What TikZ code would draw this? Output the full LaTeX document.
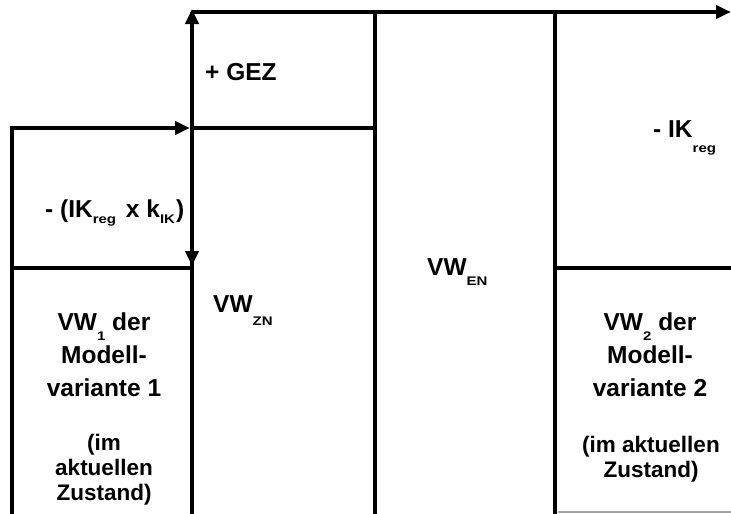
\documentclass[tikz,border=0pt]{standalone}
\usepackage{fontspec}
\usepackage{graphicx}
\setmainfont{Liberation Sans}
\usetikzlibrary{arrows.meta}
\newcommand{\mysub}[2]{\raisebox{-#1}{\scalebox{1.2}[1]{\fontsize{12.5}{13}\selectfont #2}}}
\tikzset{
  wall/.style={line width=4pt, line cap=rect},
  arr/.style={line width=4pt, -{Triangle[length=15pt,width=13pt]}},
  big/.style={inner sep=0pt, font=\bfseries\fontsize{24.5}{33}\selectfont},
  small/.style={inner sep=0pt, font=\bfseries\fontsize{22.5}{25}\selectfont},
}
\begin{document}
\begin{tikzpicture}[x=1pt,y=-1pt]
\useasboundingbox (0,0) rectangle (731,514);
% coordinates
\coordinate (LB) at (12,516);
\coordinate (LT) at (12,128);
\coordinate (A1) at (190,128);
\coordinate (M1) at (192,128);
\coordinate (R1) at (375,128);
\coordinate (CB) at (192,516);
\coordinate (CT) at (192,9);
\coordinate (TL) at (192,12);
\coordinate (TR) at (731,12);
\coordinate (D1) at (192,266);
\coordinate (LH1) at (12,268);
\coordinate (LH2) at (192,268);
\coordinate (V2T) at (375,12);
\coordinate (V2B) at (375,516);
\coordinate (V3T) at (555,12);
\coordinate (V3B) at (555,516);
\coordinate (RH1) at (555,268);
\coordinate (RH2) at (733,268);
\coordinate (G1) at (558,512);
\coordinate (G2) at (731,512);
% lines
\draw[line width=4pt] (LB) -- (LT) -- ++(2,0);
\draw[arr] (LT) -- (A1);
\draw[wall] (M1) -- (R1);
\draw[line width=4pt] (CB) -- (TL);
\draw[arr] (CB) -- (CT);
\draw[arr] (TL) -- (TR);
\draw[arr] (M1) -- (D1);
\draw[wall] (LH1) -- (LH2);
\draw[wall] (V2T) -- (V2B);
\draw[wall] (V3T) -- (V3B);
\draw[wall] (RH1) -- (RH2);
\draw[gray!70, line width=1.5pt] (G1) -- (G2);
% texts
\node[big, anchor=base west] (gez) at (205,80) {+ GEZ};
\node[big, anchor=base west] (ikk) at (45,217) {- (IK\mysub{6pt}{reg}\hspace{3pt} x k\mysub{6pt}{IK}\hspace{1pt})};
\node[big, anchor=base west] (ikr) at (653,137) {- IK\mysub{15pt}{reg}};
\node[big, anchor=base west] (ven) at (427,275) {VW\mysub{10pt}{EN}};
\node[big, anchor=base west] (vzn) at (213,312) {VW\mysub{13pt}{ZN}};
\node[big, anchor=base, align=center] (v1) at (104,396) {VW\mysub{10pt}{1} der\\Modell-\\variante 1};
\node[small, anchor=base, align=center] (z1) at (104,500) {(im\\aktuellen\\Zustand)};
\node[big, anchor=base, align=center] (v2) at (650,396) {VW\mysub{10pt}{2} der\\Modell-\\variante 2};
\node[small, anchor=base, align=center] (z2) at (651,477) {(im aktuellen\\Zustand)};
\end{tikzpicture}
\end{document}
